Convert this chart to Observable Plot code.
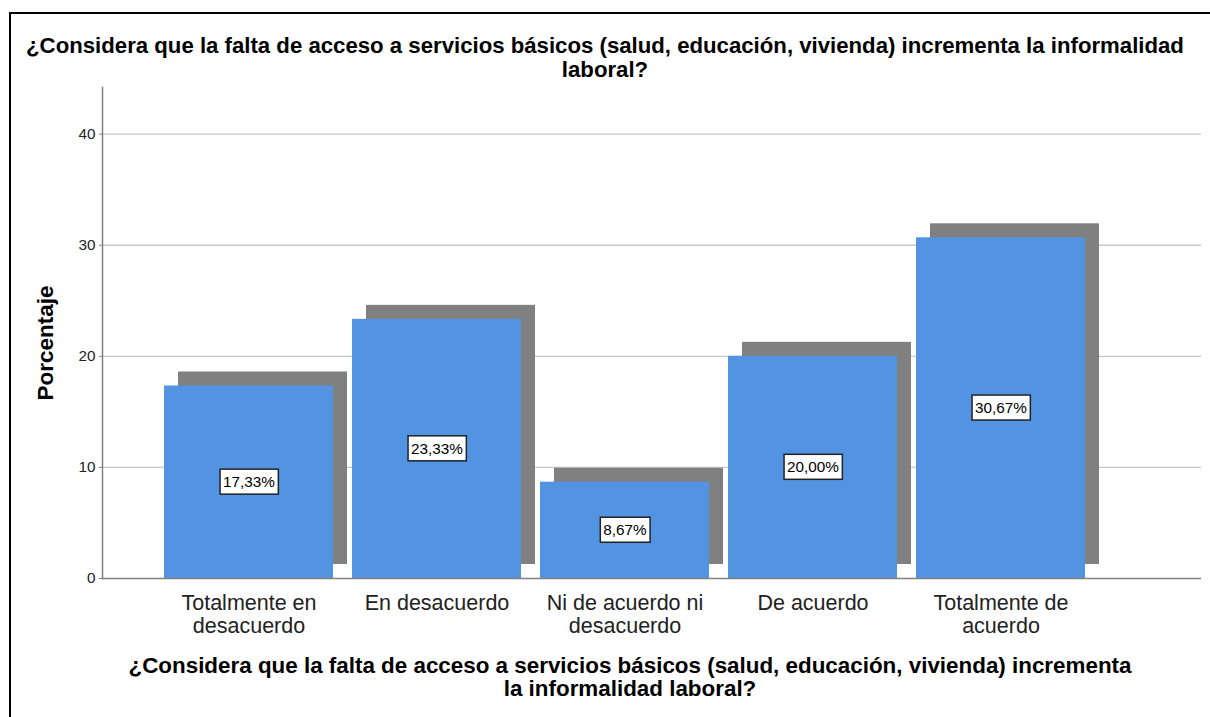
<!DOCTYPE html>
<html><head><meta charset="utf-8">
<script src="https://cdn.jsdelivr.net/npm/d3@7"></script>
<script src="https://cdn.jsdelivr.net/npm/@observablehq/plot@0.6"></script>
<style>
body{margin:0;background:#fff;font-family:"Liberation Sans",Arial,sans-serif;width:1210px;height:717px;overflow:hidden;position:relative;}
#frame{position:absolute;left:9px;top:12px;width:1210px;height:720px;border-top:2px solid #000;border-left:2px solid #000;}
#chart{position:absolute;left:0;top:0;}
#title{position:absolute;left:0;top:34px;width:1210px;text-align:center;font-weight:bold;font-size:22.2px;line-height:24px;color:#000;white-space:nowrap;}
#xtitle{position:absolute;left:80px;width:1100px;top:655px;text-align:center;font-weight:bold;font-size:22.4px;line-height:22.5px;color:#000;white-space:nowrap;}
</style></head>
<body>
<div id="frame"></div>
<div id="chart"></div>
<div id="title">¿Considera que la falta de acceso a servicios básicos (salud, educación, vivienda) incrementa la informalidad<br>laboral?</div>
<div id="xtitle">¿Considera que la falta de acceso a servicios básicos (salud, educación, vivienda) incrementa<br>la informalidad laboral?</div>
<script>
const categories = ["Totalmente en desacuerdo","En desacuerdo","Ni de acuerdo ni desacuerdo","De acuerdo","Totalmente de acuerdo"];
const tickLabels = ["Totalmente en\ndesacuerdo","En desacuerdo","Ni de acuerdo ni\ndesacuerdo","De acuerdo","Totalmente de\nacuerdo"];
const percents = [17.33, 23.33, 8.67, 20.00, 30.67];
const valueLabels = ["17,33%","23,33%","8,67%","20,00%","30,67%"];
const yTicks = [0, 10, 20, 30, 40];
const yLabel = "Porcentaje";

const data = categories.map((c, i) => ({cat: c, pct: percents[i], label: valueLabels[i], tick: tickLabels[i]}));
const tickMap = new Map(data.map(d => [d.cat, d.tick]));

const chart = Plot.plot({
  width: 1210,
  height: 640,
  marginTop: 87,
  marginBottom: 62,
  marginLeft: 102,
  marginRight: 9,
  style: {background: "transparent", fontFamily: "'Liberation Sans', Arial, sans-serif", color: "#000"},
  x: {domain: categories, range: [154.2, 1094.2], paddingInner: 0.1, paddingOuter: 0.05, label: null},
  y: {domain: [0, 44.2], label: null},
  marks: [
    Plot.ruleY(yTicks.filter(t => t > 0), {stroke: "#c8c8c8", strokeWidth: 1.3}),
    Plot.barY(data, {x: "cat", y: "pct", fill: "#808080", dx: 14, dy: -14}),
    Plot.barY(data, {x: "cat", y: "pct", fill: "#5294e2"}),
    Plot.ruleY([0], {stroke: "#808080", strokeWidth: 1.5}),
    Plot.frame({anchor: "left", stroke: "#808080", strokeWidth: 1.5}),
    Plot.axisY({ticks: yTicks, tickSize: 3, tickPadding: 4, fontSize: 15.3, stroke: "#808080", color: "#222", label: null}),
    Plot.axisX({tickSize: 0, tickPadding: 15, fontSize: 21.5, lineHeight: 1.07, color: "#222", tickFormat: d => tickMap.get(d), label: null}),
    Plot.text(data, {x: "cat", y: d => d.pct / 2, text: "label", fontSize: 15.3, fill: "#000"}),
    Plot.text([yLabel], {frameAnchor: "left", textAnchor: "middle", rotate: -90, dx: -57, dy: 10, fontSize: 22.5, fontWeight: "bold", fill: "#000"})
  ]
});
document.getElementById("chart").appendChild(chart);

// add white boxes behind value labels
chart.querySelectorAll("text").forEach(t => {
  if (!valueLabels.includes(t.textContent)) return;
  const b = t.getBBox();
  const r = document.createElementNS("http://www.w3.org/2000/svg", "rect");
  r.setAttribute("x", b.x - 3);
  r.setAttribute("y", b.y - 4);
  r.setAttribute("width", b.width + 6);
  r.setAttribute("height", b.height + 8);
  r.setAttribute("fill", "#fff");
  r.setAttribute("stroke", "#222");
  r.setAttribute("stroke-width", 1.5);
  if (t.getAttribute("transform")) r.setAttribute("transform", t.getAttribute("transform"));
  t.parentNode.insertBefore(r, t);
});
</script>
</body></html>
